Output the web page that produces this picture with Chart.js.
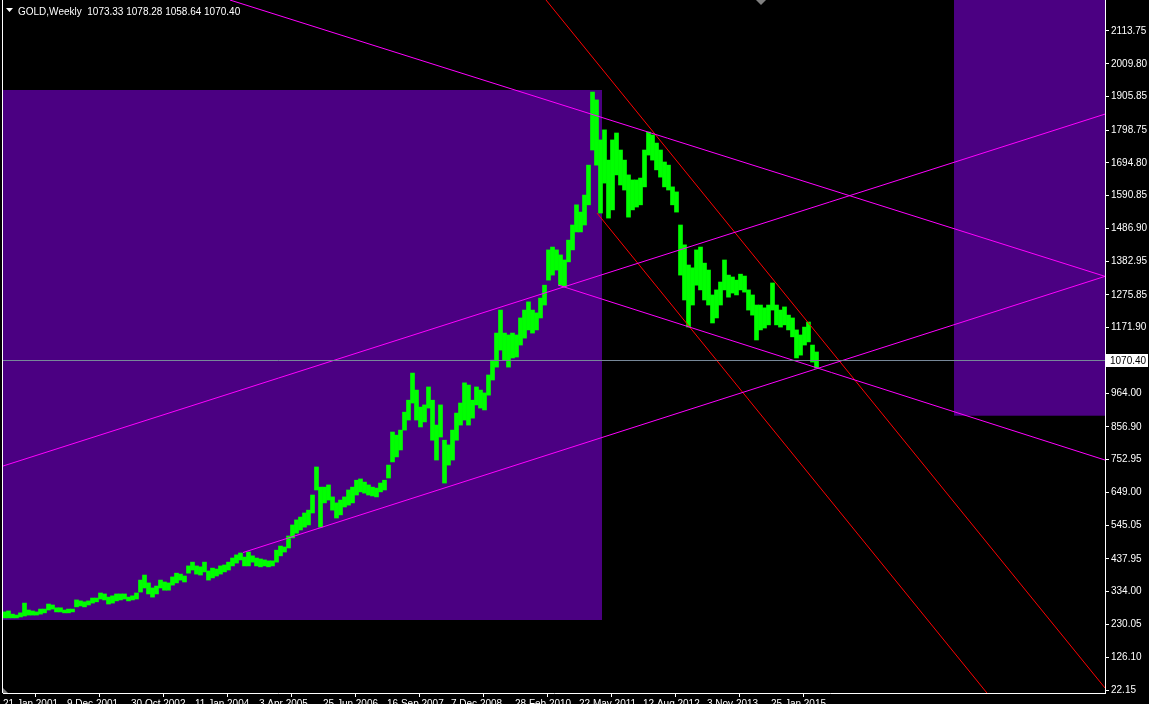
<!DOCTYPE html>
<html lang="en">
<head>
  <meta charset="UTF-8" />
  <title>GOLD, Weekly</title>
  <style>
    html, body { margin: 0; padding: 0; background: #000; overflow: hidden; }
    #chart { display: block; }
  </style>
</head>
<body>
  <canvas id="chart" width="1149" height="704"></canvas>

  <script src="https://cdn.jsdelivr.net/npm/chart.js"></script>
  <script>
    // bar index of each date label (one label every 64 weekly bars)
    const labelStep = 64;
    const dateLabels = [
      "21 Jan 2001", "9 Dec 2001", "30 Oct 2002", "11 Jan 2004", "3 Apr 2005",
      "25 Jun 2006", "16 Sep 2007", "7 Dec 2008", "28 Feb 2010", "22 May 2011",
      "12 Aug 2012", "3 Nov 2013", "25 Jan 2015"
    ];
    const priceTicks = [
      22.15, 126.10, 230.05, 334.00, 437.95, 545.05, 649.00, 752.95, 856.90, 964.00,
      1171.90, 1275.85, 1382.95, 1486.90, 1590.85, 1694.80, 1798.75, 1905.85, 2009.80, 2113.75
    ];

    // weekly bars grouped 4 at a time: high / low of each group
    const groupSize = 4;
    const groupHighs = [
      270, 273, 263, 260, 267, 298, 276, 273, 270, 279, 279, 295, 292, 283, 283, 276, 279, 279, 308, 305,
      302, 305, 314, 314, 330, 327, 317, 321, 327, 327, 327, 317, 321, 330, 371, 387, 362, 346, 352, 371,
      365, 362, 381, 393, 390, 384, 416, 428, 416, 413, 428, 400, 409, 406, 416, 419, 428, 441, 451, 457,
      444, 460, 448, 441, 438, 435, 432, 432, 466, 479, 476, 511, 546, 562, 571, 584, 593, 641, 730, 666,
      666, 673, 635, 616, 625, 635, 657, 666, 688, 692, 682, 673, 666, 663, 679, 688, 736, 841, 831, 847,
      904, 942, 1028, 974, 920, 927, 984, 942, 863, 927, 815, 800, 847, 901, 933, 997, 990, 942, 984, 974,
      965, 1022, 1069, 1155, 1228, 1155, 1149, 1155, 1149, 1203, 1228, 1254, 1228, 1219, 1266, 1307, 1419, 1428, 1419, 1403,
      1387, 1450, 1498, 1562, 1539, 1593, 1688, 1920, 1895, 1768, 1800, 1704, 1768, 1790, 1736, 1704, 1657, 1641, 1641, 1647,
      1736, 1793, 1784, 1758, 1736, 1698, 1688, 1619, 1603, 1498, 1435, 1371, 1362, 1419, 1428, 1377, 1355, 1276, 1292, 1317,
      1387, 1339, 1333, 1323, 1342, 1336, 1292, 1276, 1244, 1244, 1235, 1244, 1314, 1244, 1228, 1238, 1212, 1203, 1165, 1149,
      1174, 1190, 1117, 1095
    ];
    const groupLows = [
      251, 251, 251, 251, 254, 257, 260, 260, 260, 263, 267, 276, 279, 270, 270, 267, 267, 270, 286, 289,
      286, 292, 298, 302, 311, 308, 295, 298, 305, 308, 311, 305, 308, 311, 333, 346, 327, 317, 327, 346,
      339, 339, 355, 362, 371, 365, 393, 403, 390, 387, 397, 371, 378, 384, 390, 397, 403, 416, 425, 435,
      416, 416, 428, 416, 413, 416, 413, 416, 428, 448, 460, 473, 505, 520, 530, 539, 546, 584, 657, 539,
      616, 625, 593, 568, 578, 603, 609, 616, 641, 651, 647, 641, 638, 635, 651, 657, 695, 746, 762, 784,
      847, 879, 933, 879, 857, 873, 917, 815, 752, 825, 679, 736, 752, 815, 863, 879, 863, 885, 927, 917,
      911, 958, 1006, 1047, 1101, 1069, 1047, 1076, 1079, 1117, 1139, 1165, 1155, 1165, 1203, 1244, 1323, 1339, 1355, 1307,
      1301, 1381, 1419, 1476, 1476, 1498, 1562, 1736, 1688, 1536, 1631, 1520, 1546, 1657, 1625, 1609, 1523, 1546, 1555, 1562,
      1619, 1720, 1704, 1673, 1650, 1619, 1609, 1562, 1539, 1339, 1260, 1174, 1244, 1307, 1292, 1260, 1244, 1187, 1203, 1244,
      1292, 1269, 1282, 1276, 1292, 1285, 1228, 1212, 1133, 1165, 1171, 1181, 1228, 1181, 1174, 1181, 1165, 1143, 1076, 1085,
      1117, 1127, 1063, 1044
    ];
    const lastBar = { open: 1073.33, high: 1078.28, low: 1058.64, close: 1070.40 };

    // rectangles: [from bar, to bar, low price, high price]
    const boxFrom = [-5, 951];
    const boxTo = [599, 1110];
    const boxLow = [244.3, 892.7];
    const boxHigh = [1926.5, 2400];

    // trend lines as [bar1, price1, bar2, price2]
    const magentaLines = [
      [227, 2212, 1102, 1335],
      [555, 1307.5, 1102, 752],
      [0, 733, 1102, 1850],
      [240, 458.5, 1102, 1335]
    ];
    const redLines = [
      [543, 2212.1, 1102, 28.5],
      [594, 1536, 1000, -50]
    ];

    const FONT = "'Liberation Sans', Arial, sans-serif";

    function lineDataset(seg, color) {
      return {
        type: "line",
        data: [{ x: seg[0], y: seg[1] }, { x: seg[2], y: seg[3] }],
        borderColor: color,
        borderWidth: 1,
        pointRadius: 0,
        fill: false,
        order: 1
      };
    }

    const bars = groupHighs.map((h, i) => ({
      x: i * groupSize + (groupSize - 1) / 2,
      y: [groupLows[i], h]
    }));

    // black background, boxes, price line, labels
    const mtPlugin = {
      id: "mtLook",
      beforeDraw(chart) {
        const ctx = chart.ctx;
        ctx.save();
        ctx.fillStyle = "#000";
        ctx.fillRect(0, 0, chart.width, chart.height);
        ctx.restore();
      },
      beforeDatasetsDraw(chart) {
        const { ctx, chartArea: a, scales: { x, y } } = chart;
        ctx.save();
        ctx.beginPath();
        ctx.rect(a.left, a.top, a.right - a.left, a.bottom - a.top);
        ctx.clip();
        ctx.fillStyle = "#4b0082";
        boxFrom.forEach((b, i) => {
          const x1 = x.getPixelForValue(b);
          const x2 = x.getPixelForValue(boxTo[i]);
          const y1 = y.getPixelForValue(boxHigh[i]);
          const y2 = y.getPixelForValue(boxLow[i]);
          ctx.fillRect(x1, y1, x2 - x1, y2 - y1);
        });
        ctx.restore();
      },
      afterDatasetsDraw(chart) {
        const { ctx, chartArea: a, scales: { y } } = chart;
        const py = Math.round(y.getPixelForValue(lastBar.close)) + 0.5;
        ctx.save();
        ctx.strokeStyle = "#778899";
        ctx.lineWidth = 1;
        ctx.beginPath();
        ctx.moveTo(a.left, py);
        ctx.lineTo(a.right, py);
        ctx.stroke();
        ctx.restore();
      },
      afterDraw(chart) {
        const { ctx, chartArea: a, scales: { y } } = chart;
        ctx.save();
        // left frame line
        ctx.fillStyle = "#fff";
        ctx.fillRect(2, 0, 1, a.bottom);
        // last price tag
        const py = Math.round(y.getPixelForValue(lastBar.close));
        ctx.fillStyle = "#fff";
        ctx.fillRect(a.right + 1, py - 6, 42, 13);
        ctx.fillStyle = "#000";
        ctx.font = "10px " + FONT;
        ctx.textBaseline = "middle";
        ctx.fillText(lastBar.close.toFixed(2), a.right + 5, py + 1);
        // title
        ctx.fillStyle = "#fff";
        ctx.beginPath();
        ctx.moveTo(6, 8);
        ctx.lineTo(13, 8);
        ctx.lineTo(9.5, 12);
        ctx.closePath();
        ctx.fill();
        ctx.font = "10px " + FONT;
        ctx.textBaseline = "alphabetic";
        const vals = [lastBar.open, lastBar.high, lastBar.low, lastBar.close].map(v => v.toFixed(2)).join(" ");
        ctx.fillText("GOLD,Weekly  " + vals, 18, 15);
        // chart shift markers
        ctx.fillStyle = "#808080";
        ctx.beginPath();
        ctx.moveTo(756, 0);
        ctx.lineTo(766, 0);
        ctx.lineTo(761, 5);
        ctx.closePath();
        ctx.fill();
        ctx.beginPath();
        ctx.moveTo(3, a.bottom - 5);
        ctx.lineTo(3, a.bottom);
        ctx.lineTo(8, a.bottom);
        ctx.closePath();
        ctx.fill();
        ctx.restore();
      }
    };

    const datasets = [
      {
        type: "bar",
        data: bars,
        backgroundColor: "#00ff00",
        borderWidth: 0,
        barThickness: groupSize,
        order: 2
      }
    ];
    magentaLines.forEach(s => datasets.push(lineDataset(s, "#ff00ff")));
    redLines.forEach(s => datasets.push(lineDataset(s, "#ff0000")));

    new Chart(document.getElementById("chart"), {
      type: "bar",
      data: { datasets },
      options: {
        responsive: false,
        animation: false,
        events: [],
        layout: { padding: { left: 3, top: 0, right: 0, bottom: 0 } },
        plugins: {
          legend: { display: false },
          tooltip: { enabled: false }
        },
        scales: {
          x: {
            type: "linear",
            min: 0,
            max: 1102,
            offset: false,
            grid: { display: true, drawOnChartArea: false, color: "#fff", tickLength: 4 },
            border: { display: true, color: "#fff" },
            ticks: {
              color: "#fff",
              font: { family: FONT, size: 10 },
              align: "start",
              padding: 1,
              maxRotation: 0,
              autoSkip: false,
              callback: (v, i) => dateLabels[i]
            },
            afterBuildTicks(scale) {
              scale.ticks = dateLabels.map((_, i) => ({ value: i * labelStep }));
            },
            afterFit(scale) {
              scale.height = 11;
              scale.paddingLeft = 0;
              scale.paddingRight = 0;
            }
          },
          y: {
            type: "linear",
            position: "right",
            min: 12.63,
            max: 2212.14,
            grid: { display: true, drawOnChartArea: false, color: "#fff", tickLength: 4 },
            border: { display: true, color: "#fff" },
            ticks: {
              color: "#fff",
              font: { family: FONT, size: 10 },
              padding: 2,
              autoSkip: false,
              callback: v => v.toFixed(2)
            },
            afterBuildTicks(scale) {
              scale.ticks = priceTicks.map(v => ({ value: v }));
            },
            afterFit(scale) {
              scale.width = 44;
              scale.paddingTop = 0;
              scale.paddingBottom = 0;
            }
          }
        }
      },
      plugins: [mtPlugin]
    });
  </script>
</body>
</html>
